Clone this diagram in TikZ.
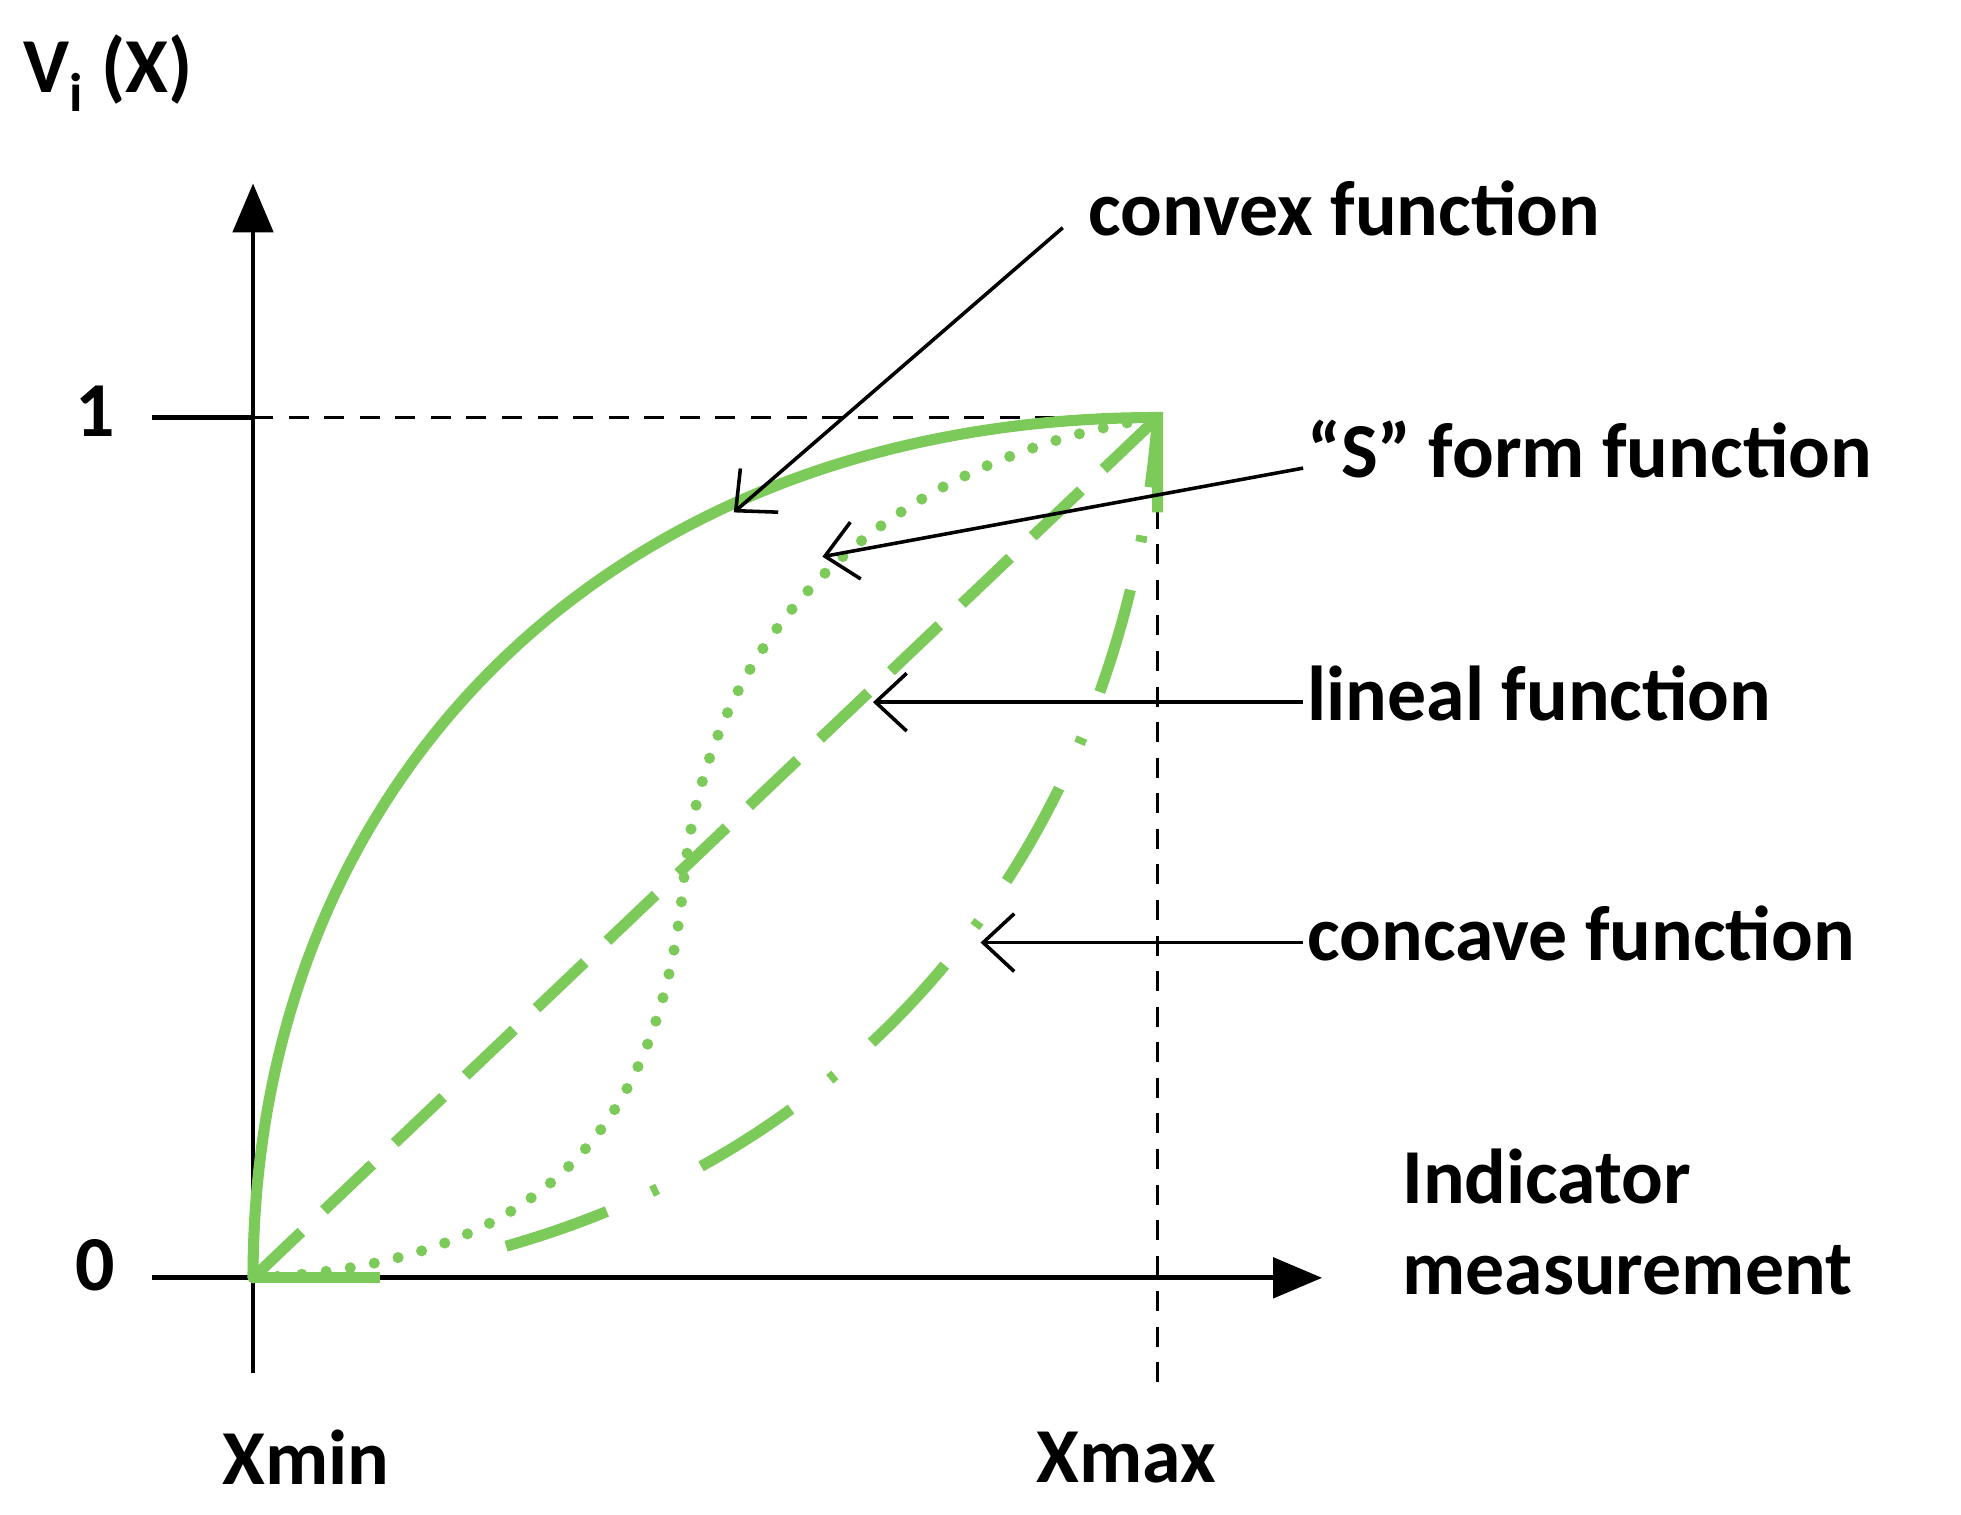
\documentclass[tikz,border=0pt]{standalone}
\usepackage{fontspec}
\setmainfont{Carlito}
\usetikzlibrary{arrows.meta}
\definecolor{gr}{HTML}{7CCB5A}
\begin{document}
\begin{tikzpicture}[x=0.02cm,y=-0.02cm,
  lbl/.style={font=\fontsize{35}{41}\selectfont\bfseries, inner sep=0pt},
  ax/.style={line width=2.2pt},
  cv/.style={gr, line width=5pt},
  ptr/.style={line width=1.6pt, -{Straight Barb[length=14pt,width=26pt,line width=1.6pt]}}]
\useasboundingbox (0,0) rectangle (1550,1197);
% axes
\coordinate (O) at (200,1010);
\coordinate (Ytop) at (200,145);
\coordinate (Xend) at (1045,1010);
\draw[ax,-{Triangle[length=22pt,width=18pt]}] (200,1085) -- (Ytop);
\draw[ax,-{Triangle[length=22pt,width=18pt]}] (120,1010) -- (Xend);
\draw[ax] (120,330) -- (200,330);
\draw[line width=1.4pt,dash pattern=on 9pt off 7pt] (200,330) -- (915,330) -- (915,1095);
% curves
\draw[cv] (O) .. controls (200,620) and (480,330) .. (915,330) -- (915,405);
\draw[cv] (O) -- (300,1010);
\draw[cv, line width=5pt, dash pattern=on 0pt off 11pt, line cap=round] (O) .. controls (420,1000) and (520,900) .. (540,700) .. controls (560,480) and (720,360) .. (915,330);
\draw[cv, dash pattern=on 30pt off 14pt] (O) -- (915,330);
\draw[cv, dash pattern=on 48pt off 22pt on 3pt off 22pt] (400,985) .. controls (700,900) and (890,650) .. (915,330);
% labels
\node[lbl,anchor=west] (tcv) at (860,165) {convex function};
\node[lbl,anchor=west] (ts) at (1033,355) {“S” form function};
\node[lbl,anchor=west] (tl) at (1033,548) {lineal function};
\node[lbl,anchor=west] (tcc) at (1033,738) {concave function};
\node[lbl,anchor=west,align=left] (ti) at (1108,966) {Indicator\\measurement};
\node[lbl] (xmin) at (242,1152) {Xmin};
\node[lbl] (xmax) at (890,1152) {Xmax};
\node[lbl] (one) at (75,325) {1};
\node[lbl] (zero) at (75,1000) {0};
\node[lbl,anchor=west] (v) at (18,58) {V\textsubscript{i} (X)};
% pointers
\coordinate (pcv) at (580,405);
\coordinate (ps) at (650,440);
\coordinate (pl) at (690,555);
\coordinate (pcc) at (775,745);
\draw[ptr] (840,180) -- (pcv);
\draw[ptr] (1030,370) -- (ps);
\draw[ptr] (1030,555) -- (pl);
\draw[ptr] (1030,745) -- (pcc);
\end{tikzpicture}
\end{document}
